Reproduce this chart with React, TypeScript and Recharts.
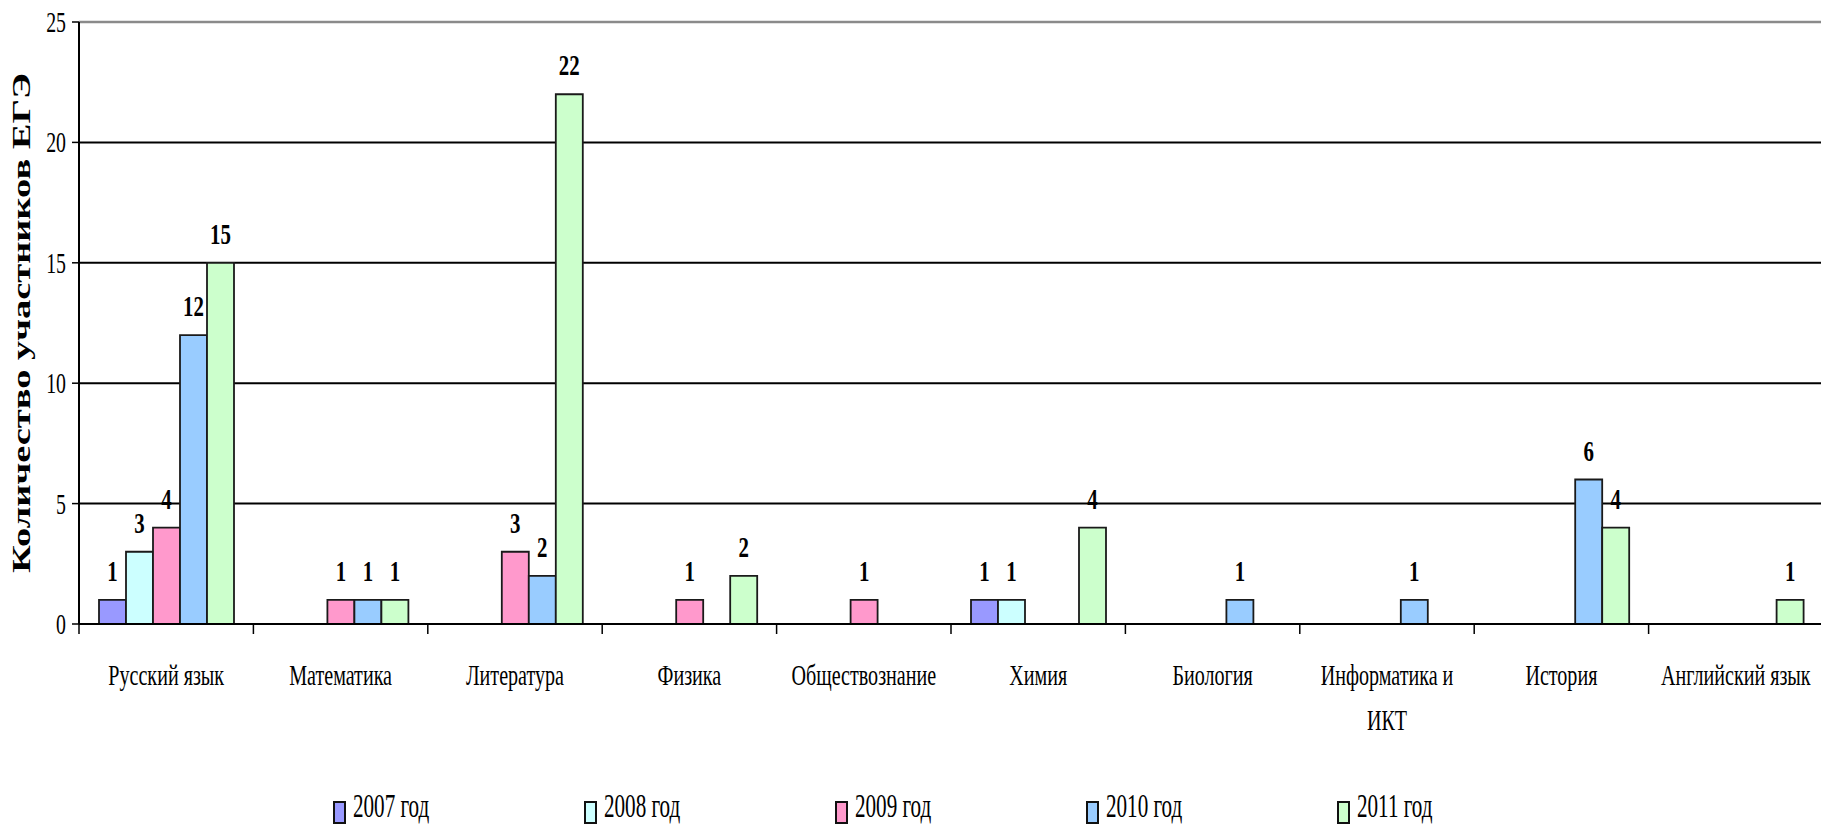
import {
  BarChart,
  Bar,
  XAxis,
  YAxis,
  CartesianGrid,
  ReferenceLine,
  LabelList,
} from 'recharts';

// subjects (\n = line break in the axis label)
const subjects = [
  'Русский язык',
  'Математика',
  'Литература',
  'Физика',
  'Обществознание',
  'Химия',
  'Биология',
  'Информатика и\nИКТ',
  'История',
  'Английский язык',
];

const y2007 = [1, 0, 0, 0, 0, 1, 0, 0, 0, 0];
const y2008 = [3, 0, 0, 0, 0, 1, 0, 0, 0, 0];
const y2009 = [4, 1, 3, 1, 1, 0, 0, 0, 0, 0];
const y2010 = [12, 1, 2, 0, 0, 0, 1, 1, 6, 0];
const y2011 = [15, 1, 22, 2, 0, 4, 0, 0, 4, 1];

const yTicks = [0, 5, 10, 15, 20, 25];
const yTitle = 'Количество участников ЕГЭ';

const series = [
  { key: 'y2007', name: '2007 год', color: '#9999ff' },
  { key: 'y2008', name: '2008 год', color: '#ccffff' },
  { key: 'y2009', name: '2009 год', color: '#ff99cc' },
  { key: 'y2010', name: '2010 год', color: '#99ccff' },
  { key: 'y2011', name: '2011 год', color: '#ccffcc' },
];

const data = subjects.map((s, i) => ({
  subject: s,
  y2007: y2007[i],
  y2008: y2008[i],
  y2009: y2009[i],
  y2010: y2010[i],
  y2011: y2011[i],
}));

const W = 1824;
const H = 826;
const M = { top: 22, right: 1, left: 0, bottom: 82 };
const Y_W = 79;
const X_H = 120;
const band = (W - M.left - M.right - Y_W) / subjects.length;
const FONT = '"Liberation Serif", "Times New Roman", serif';

// the original picture is stretched vertically, so text is squeezed in x
const XTick = (props: any) => {
  const { x, y, payload } = props;
  const lines = String(payload.value).split('\n');
  return (
    <g>
      <line x1={x - band / 2} x2={x - band / 2} y1={y} y2={y + 10} stroke="#000" strokeWidth={1.5} />
      {lines.map((l: string, i: number) => (
        <text
          key={i}
          transform={`translate(${x},${y + 61 + i * 45}) scale(0.67,1)`}
          textAnchor="middle"
          fontFamily={FONT}
          fontSize={30}
          fill="#000"
        >
          {l}
        </text>
      ))}
    </g>
  );
};

const YTick = (props: any) => {
  const { x, y, payload } = props;
  return (
    <text
      transform={`translate(${x - 4},${y + 10}) scale(0.66,1)`}
      textAnchor="end"
      fontFamily={FONT}
      fontSize={30}
      fill="#000"
    >
      {payload.value}
    </text>
  );
};

const ValueLabel = (props: any) => {
  const { x, y, width, value } = props;
  if (!value) return null;
  return (
    <text
      transform={`translate(${x + width / 2},${y - 19}) scale(0.72,1)`}
      textAnchor="middle"
      fontFamily={FONT}
      fontWeight="bold"
      fontSize={29}
      fill="#000"
    >
      {value}
    </text>
  );
};

const YTitle = (props: any) => {
  const vb = props.viewBox || { y: 0, height: 0 };
  const cy = vb.y + vb.height / 2;
  return (
    <text
      transform={`translate(30,${cy}) rotate(-90)`}
      textAnchor="middle"
      fontFamily={FONT}
      fontWeight="bold"
      fontSize={26}
      textLength={500}
      lengthAdjust="spacingAndGlyphs"
      fill="#000"
    >
      {yTitle}
    </text>
  );
};

export default function App() {
  return (
    <div
      style={{
        position: 'absolute',
        left: 0,
        top: 0,
        width: 1821,
        height: H,
        overflow: 'hidden',
        background: '#fff',
      }}
    >
      <BarChart
        width={W}
        height={H}
        data={data}
        margin={M}
        barCategoryGap={20}
        barGap={0}
      >
        <CartesianGrid vertical={false} stroke="#000" strokeWidth={2} />
        <ReferenceLine y={25} stroke="#8a8a8a" strokeWidth={2.5} />
        <XAxis
          dataKey="subject"
          interval={0}
          height={X_H}
          tickLine={false}
          tickSize={0}
          tickMargin={0}
          axisLine={{ stroke: '#000', strokeWidth: 2 }}
          tick={<XTick />}
        />
        <YAxis
          width={Y_W}
          domain={[0, 25]}
          ticks={yTicks}
          interval={0}
          tickSize={7}
          tickMargin={2}
          axisLine={{ stroke: '#000', strokeWidth: 2 }}
          tickLine={{ stroke: '#000', strokeWidth: 1.5 }}
          tick={<YTick />}
          label={{ content: <YTitle /> }}
        />
        {series.map((s) => (
          <Bar
            key={s.key}
            dataKey={s.key}
            name={s.name}
            fill={s.color}
            stroke="#1a1a1a"
            strokeWidth={1.8}
            isAnimationActive={false}
          >
            <LabelList dataKey={s.key} content={<ValueLabel />} />
          </Bar>
        ))}
      </BarChart>

      {/* legend */}
      <div
        style={{
          position: 'absolute',
          left: 333,
          top: 786,
          display: 'flex',
          fontFamily: FONT,
        }}
      >
        {series.map((s) => (
          <div key={s.key} style={{ width: 251, display: 'flex', alignItems: 'flex-end' }}>
            <svg width={16} height={30} style={{ display: 'block' }}>
              <rect x={1} y={6} width={11} height={21} fill={s.color} stroke="#111" strokeWidth={2} />
            </svg>
            <svg width={120} height={40} style={{ display: 'block' }}>
              <text
                transform="translate(4,31) scale(0.64,1)"
                fontFamily={FONT}
                fontSize={33}
                fill="#000"
              >
                {s.name}
              </text>
            </svg>
          </div>
        ))}
      </div>
    </div>
  );
}
